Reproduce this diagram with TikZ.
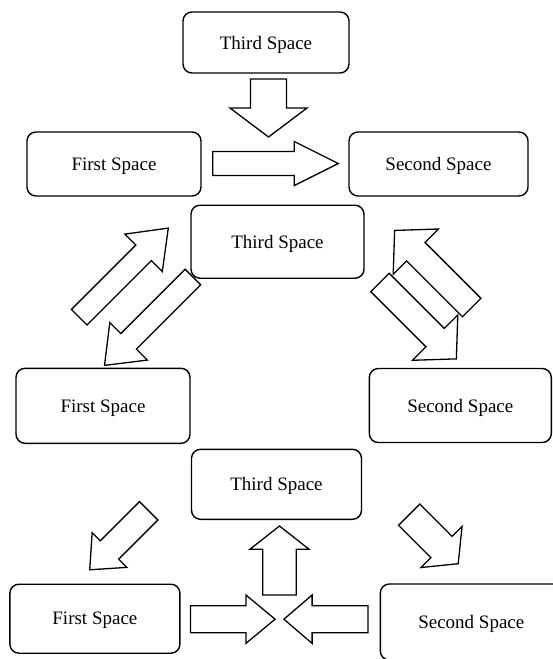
\documentclass[tikz,border=0pt]{standalone}
\usepackage{fontspec}
\setmainfont{Liberation Serif}

% block arrow: tail point, angle, length, shaft half width, head half width, head length
\newcommand{\blockarrow}[6]{%
  \begin{scope}[shift={(#1)}, rotate=#2]
    \draw[arrowbody] (0,-#4) -- ({#3-#6},-#4) -- ({#3-#6},-#5) -- (#3,0)
      -- ({#3-#6},#5) -- ({#3-#6},#4) -- (0,#4) -- cycle;
  \end{scope}}

\begin{document}
\begin{tikzpicture}[x=1pt, y=-1pt,
    spacebox/.style={draw, line width=1.4pt, rounded corners=9pt, text depth=0pt, font=\fontsize{19}{23}\selectfont},
    arrowbody/.style={draw, fill=white, line width=1.3pt}]
    \useasboundingbox (0,0) rectangle (553,659);
    \clip (0,0) rectangle (553,659);

    % Define boxes, top group
    \node[spacebox, minimum width=166pt, minimum height=61pt] (third1) at (266,42.5) {Third Space};
    \node[spacebox, minimum width=174pt, minimum height=64pt] (first1) at (114,164) {First Space};
    \node[spacebox, minimum width=179pt, minimum height=64pt] (second1) at (438.5,164) {Second Space};

    % Define boxes, middle group
    \node[spacebox, minimum width=173pt, minimum height=73pt] (third2) at (277.5,241.7) {Third Space};
    \node[spacebox, minimum width=174pt, minimum height=75pt] (first2) at (103,405.8) {First Space};
    \node[spacebox, minimum width=182pt, minimum height=74pt] (second2) at (460.3,405.5) {Second Space};

    % Define boxes, bottom group
    \node[spacebox, minimum width=170pt, minimum height=70pt] (third3) at (276.5,484.3) {Third Space};
    \node[spacebox, minimum width=170pt, minimum height=69pt] (first3) at (94.9,618.7) {First Space};
    \node[spacebox, minimum width=182pt, minimum height=76pt] (second3) at (471.3,622) {Second Space};

    % Draw arrows, top group
    \blockarrow{268.5,79}{-90}{58}{18}{38.5}{29}       % third -> down
    \blockarrow{212.7,163.5}{0}{125.6}{12}{22}{44}     % first -> second

    % Draw arrows, middle group
    \blockarrow{79.2,317.2}{45}{126}{11}{26.5}{35}     % first -> third
    \blockarrow{192.9,277}{-135}{125}{11}{26.5}{34}    % third -> first
    \blockarrow{471.7,307.5}{135}{109}{13}{32}{30}     % second -> third
    \blockarrow{380,282.5}{-45}{108}{13}{32}{30}       % third -> second

    % Draw arrows, bottom group
    \blockarrow{148.7,510.8}{-135}{83.4}{13}{24.6}{28} % third -> first
    \blockarrow{409.2,514.7}{-45}{69.3}{15}{29}{23.6}  % third -> second
    \blockarrow{279.5,595}{90}{69}{16.7}{29.6}{23.3}   % up to third
    \blockarrow{190.5,619.2}{0}{84.6}{13.5}{24.2}{29.2}  % first -> centre
    \blockarrow{367.9,619.2}{180}{84}{13.5}{24.2}{28.2}  % second -> centre
\end{tikzpicture}
\end{document}
